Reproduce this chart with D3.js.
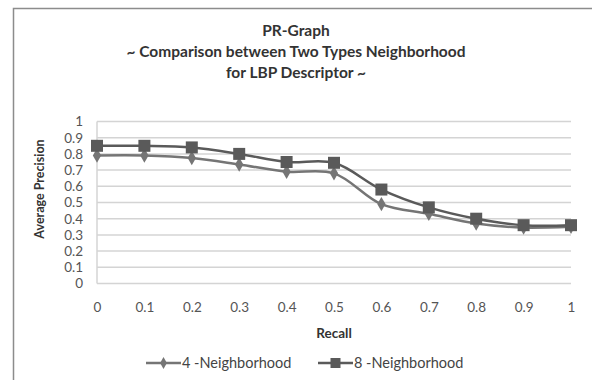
<!DOCTYPE html>
<html><head><meta charset="utf-8">
<script src="https://cdn.jsdelivr.net/npm/d3@7"></script>
<style>body{margin:0;background:#fff}svg{display:block}</style>
</head><body>
<svg id="c" width="592" height="380"></svg>
<script>
const recall = [0,0.1,0.2,0.3,0.4,0.5,0.6,0.7,0.8,0.9,1];
const xLabels = ["0","0.1","0.2","0.3","0.4","0.5","0.6","0.7","0.8","0.9","1"];
const yTicks = [0,0.1,0.2,0.3,0.4,0.5,0.6,0.7,0.8,0.9,1];
const n4 = [0.79,0.79,0.775,0.735,0.69,0.68,0.49,0.43,0.37,0.345,0.35];
const n8 = [0.85,0.85,0.84,0.80,0.75,0.745,0.58,0.47,0.40,0.36,0.36];
const seriesNames = ["4 -Neighborhood","8 -Neighborhood"];
const titleLines = ["PR-Graph","~ Comparison between Two Types Neighborhood","for LBP Descriptor ~"];

const svg = d3.select("#c");
const font = "Lato, 'Open Sans', sans-serif";
// outer border
svg.append("path").attr("d","M13.5,400 V8.5 H600").attr("fill","none").attr("stroke","#8c8c8c").attr("stroke-width",1.5);

const x = d3.scalePoint().domain(xLabels).range([97,571]);
const y = d3.scaleLinear().domain([0,1]).range([283.5,121.5]);

// gridlines
svg.append("g").selectAll("line").data(yTicks).join("line")
  .attr("x1",97).attr("x2",571).attr("y1",d=>y(d)).attr("y2",d=>y(d))
  .attr("stroke","#d4d4d4").attr("stroke-width",1.5);
svg.append("line").attr("x1",97).attr("x2",97).attr("y1",y(1)).attr("y2",y(0)).attr("stroke","#d4d4d4").attr("stroke-width",1.5);

// y axis labels
const yAxis = d3.axisLeft(y).tickValues(yTicks).tickSize(0).tickPadding(0).tickFormat(d3.format("~g"));
const gy = svg.append("g").attr("transform","translate(83,0)").call(yAxis);
gy.select(".domain").remove();
gy.selectAll("text").attr("font-family",font).attr("font-size",13.5).attr("fill","#555");

const xAxis = d3.axisBottom(x).tickSize(0).tickPadding(0);
const gx = svg.append("g").attr("transform","translate(0,302.5)").call(xAxis);
gx.select(".domain").remove();
gx.selectAll("text").attr("font-family",font).attr("font-size",13.5).attr("fill","#555");

// titles
svg.append("g").selectAll("text").data(titleLines).join("text")
  .attr("x",296).attr("y",(d,i)=>35.5+i*21.3).attr("text-anchor","middle")
  .attr("font-family",font).attr("font-weight","bold").attr("font-size",15.5).attr("fill","#333").text(d=>d);
svg.append("text").attr("x",334).attr("y",337.5).attr("text-anchor","middle")
  .attr("font-family",font).attr("font-weight","bold").attr("font-size",13.5).attr("fill","#333").text("Recall");
svg.append("text").attr("transform","translate(44,189) rotate(-90)").attr("text-anchor","middle")
  .attr("font-family",font).attr("font-weight","bold").attr("font-size",12.5).attr("fill","#333").text("Average Precision");

const line = d3.line().x((d,i)=>x(xLabels[i])).y(d=>y(d)).curve(d3.curveCatmullRom.alpha(0.5));
const c4 = "#757575", c8 = "#5a5a5a";
svg.append("path").attr("d",line(n4)).attr("fill","none").attr("stroke",c4).attr("stroke-width",2.5);
svg.append("path").attr("d",line(n8)).attr("fill","none").attr("stroke",c8).attr("stroke-width",2.5);

const diamond = d3.symbol().type(d3.symbolDiamond).size(60);
svg.append("g").selectAll("path").data(n4).join("path")
  .attr("transform",(d,i)=>`translate(${x(xLabels[i])},${y(d)})`).attr("d",diamond()).attr("fill",c4);
svg.append("g").selectAll("rect").data(n8).join("rect")
  .attr("x",(d,i)=>x(xLabels[i])-6).attr("y",d=>y(d)-6).attr("width",12).attr("height",12).attr("fill",c8);

// legend
const leg = svg.append("g");
const L = [{x1:146,x2:181,c:c4,t:seriesNames[0],m:"d"},{x1:318,x2:353,c:c8,t:seriesNames[1],m:"s"}];
L.forEach(o=>{
  leg.append("line").attr("x1",o.x1).attr("x2",o.x2).attr("y1",363).attr("y2",363).attr("stroke",o.c).attr("stroke-width",2.5);
  const cx=(o.x1+o.x2)/2;
  if(o.m==="d") leg.append("path").attr("transform",`translate(${cx},363)`).attr("d",d3.symbol().type(d3.symbolDiamond).size(40)()).attr("fill",o.c);
  else leg.append("rect").attr("x",cx-5).attr("y",358).attr("width",10).attr("height",10).attr("fill",o.c);
  leg.append("text").attr("x",o.x2+1).attr("y",368).attr("font-family",font).attr("font-size",14.5).attr("fill","#444").text(o.t);
});
</script>
</body></html>
